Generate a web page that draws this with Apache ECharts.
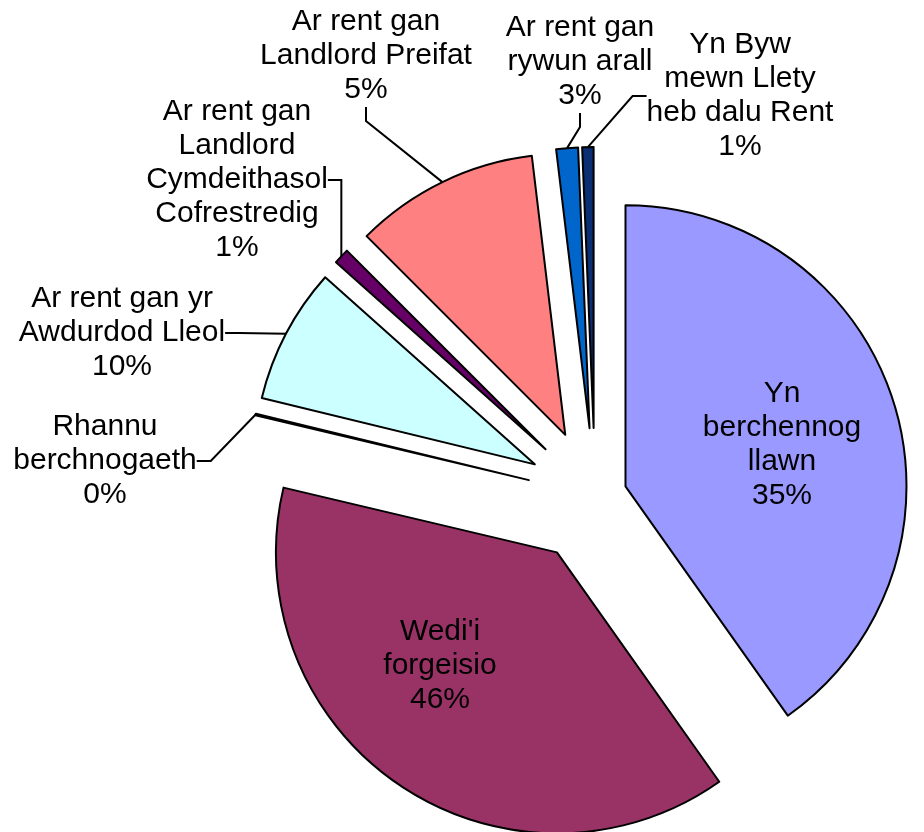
<!DOCTYPE html>
<html>
<head>
<meta charset="utf-8">
<title>Deiliadaeth</title>
<script src="https://cdn.jsdelivr.net/npm/echarts@6/dist/echarts.min.js"></script>
<style>
html,body{margin:0;padding:0;background:#fff}
#tenureChart{width:924px;height:832px}
</style>
</head>
<body>
<div id="tenureChart"></div>
<script>
// tenure categories, in drawing order (clockwise from 12 o'clock)
var tenureNames = [
	'Yn\nberchennog\nllawn',
	"Wedi'i\nforgeisio",
	'Rhannu\nberchnogaeth',
	'Ar rent gan yr\nAwdurdod Lleol',
	'Ar rent gan\nLandlord\nCymdeithasol\nCofrestredig',
	'Ar rent gan\nLandlord Preifat',
	'Ar rent gan\nrywun arall',
	'Yn Byw\nmewn Llety\nheb dalu Rent'
];
// slice sizes as drawn in the picture (share of the circle)
var sliceShares = [40.2, 38.5, 0.1, 7.8, 0.9, 10.6, 1.25, 0.65];
// percentages printed on the labels
var labelPercents = [35, 46, 0, 10, 1, 5, 3, 1];

var sliceColors = ['#9999FF', '#993366', '#FFFFCC', '#CCFFFF', '#660066', '#FF8080', '#0066CC', '#0A2F73'];
var insideLabels = [0, 1];
// how far each slice is pulled out of the pie (px)
var explode = [32, 68, 68, 68, 68, 68, 68, 68];
// label centres (layout only)
var labelPos = [[782, 445], [440, 666], [105, 461], [122, 333], [237, 180], [366, 56], [580, 62], [740, 96]];

var pieCenter = [595, 496];
var pieRadius = 281;

var myChart = echarts.init(document.getElementById('tenureChart'));

function buildData(k){
	var list = [];
	for(var i=0;i<tenureNames.length;i++){
		var item = {name: tenureNames[i], value: sliceShares[i]};
		if(i == k){
			item.itemStyle = {color: sliceColors[i], borderColor: '#000', borderWidth: 2};
			if(insideLabels.indexOf(i) >= 0){
				item.label = {position: 'inside'};
				item.labelLine = {show: false};
			}
		}else{
			item.itemStyle = {color: 'rgba(0,0,0,0)', borderWidth: 0};
			item.label = {show: false};
			item.labelLine = {show: false};
		}
		list.push(item);
	}
	return list;
}

// each slice gets its own series, shifted out along its middle angle
function sliceCenter(k){
	var total = 0, before = 0;
	for(var i=0;i<sliceShares.length;i++){
		total += sliceShares[i];
		if(i < k) before += sliceShares[i];
	}
	var mid = (before + sliceShares[k] / 2) / total * 2 * Math.PI;
	return [pieCenter[0] + explode[k] * Math.sin(mid), pieCenter[1] - explode[k] * Math.cos(mid)];
}

var seriesArray = [];
for(var k=0;k<tenureNames.length;k++){
	seriesArray.push({
		type: 'pie',
		center: sliceCenter(k),
		radius: pieRadius,
		startAngle: 90,
		clockwise: true,
		avoidLabelOverlap: false,
		animation: false,
		emphasis: {disabled: true},
		label: {
			show: true,
			position: 'outside',
			color: '#000',
			fontFamily: 'Liberation Sans',
			fontSize: 30,
			lineHeight: 34,
			align: 'center',
			formatter: function(p){
				return p.name + '\n' + labelPercents[p.dataIndex] + '%';
			}
		},
		labelLine: {
			show: true,
			length: 10,
			length2: 14,
			lineStyle: {color: '#000', width: 2}
		},
		labelLayout: function(params){
			var pos = labelPos[params.dataIndex];
			return {x: pos[0], y: pos[1], align: 'center', verticalAlign: 'middle'};
		},
		data: buildData(k)
	});
}

var option = {
	backgroundColor: '#fff',
	series: seriesArray
};
myChart.setOption(option);
</script>
</body>
</html>
